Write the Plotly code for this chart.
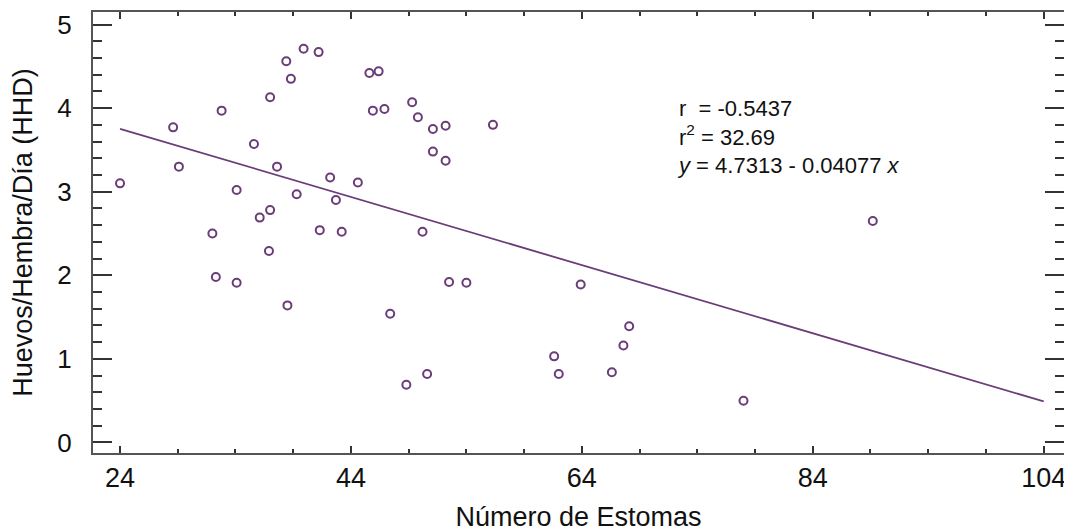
import plotly.graph_objects as go

# Data
estomas = [24.0, 28.6, 29.1, 32.8, 34.1, 35.6, 36.1, 37.0, 37.0, 37.6,
           38.4, 38.8, 39.3, 39.9, 41.2, 42.2, 42.7, 32.0, 41.3, 43.2,
           36.9, 32.3, 34.1, 38.5, 45.6, 46.4, 44.6, 45.9, 46.9, 49.3,
           49.8, 51.1, 52.2, 51.1, 52.2, 56.3, 50.2, 52.5, 54.0, 47.4,
           48.8, 50.6, 63.9, 61.6, 62.0, 89.2, 68.1, 67.6, 66.6, 78.0]
hhd = [3.10, 3.77, 3.30, 3.97, 3.02, 3.57, 2.69, 2.78, 4.13, 3.30,
       4.56, 4.35, 2.97, 4.71, 4.67, 3.17, 2.90, 2.50, 2.54, 2.52,
       2.29, 1.98, 1.91, 1.64, 4.42, 4.44, 3.11, 3.97, 3.99, 4.07,
       3.89, 3.75, 3.79, 3.48, 3.37, 3.80, 2.52, 1.92, 1.91, 1.54,
       0.69, 0.82, 1.89, 1.03, 0.82, 2.65, 1.39, 1.16, 0.84, 0.50]

intercept = 4.7313
slope = -0.04077
fit_x = [24, 104]
fit_y = [intercept + slope * v for v in fit_x]

stats_lines = ["r  = -0.5437", "r<sup>2</sup> = 32.69", "<i>y</i> = 4.7313 - 0.04077 <i>x</i>"]

x_ticks = [24, 44, 64, 84, 104]
y_ticks = [0, 1, 2, 3, 4, 5]

purple = "#6b3d78"
axis_col = "#555555"
font_family = "Liberation Sans, Arial, sans-serif"

fig = go.Figure()
fig.add_trace(go.Scatter(x=fit_x, y=fit_y, mode="lines",
                         line=dict(color=purple, width=1.8),
                         showlegend=False, hoverinfo="skip"))
fig.add_trace(go.Scatter(x=estomas, y=hhd, mode="markers",
                         marker=dict(symbol="circle-open", size=8,
                                     color=purple, line=dict(width=2, color=purple)),
                         showlegend=False))

fig.add_annotation(text="<br>".join(stats_lines), xref="paper", yref="paper",
                   x=0.599, y=0.815, xanchor="left", yanchor="top", align="left",
                   showarrow=False,
                   font=dict(family=font_family, size=22, color="#111111"))

# The page body has an 8px margin, so the figure is sized to fit the window.
fig.update_layout(
    width=1064, height=524,
    margin=dict(l=85, r=8, t=4, b=79, autoexpand=False),
    paper_bgcolor="white", plot_bgcolor="white",
    font=dict(family=font_family, color="#111111"),
)
fig.update_xaxes(
    automargin=False,
    range=[21.66, 105.76], tickmode="array", tickvals=x_ticks,
    ticktext=[str(v) for v in x_ticks],
    showgrid=False, zeroline=False,
    showline=True, linecolor=axis_col, linewidth=2, mirror="allticks",
    ticks="inside", ticklen=7, tickwidth=2, tickcolor="#333333",
    minor=dict(dtick=5, tick0=24, ticks="inside", ticklen=4, tickwidth=2, tickcolor="#333333", showgrid=False),
    tickfont=dict(size=27, family=font_family, color="#111111"),
    title=dict(text="Número de Estomas", font=dict(size=27, family=font_family, color="#111111"), standoff=16),
)
fig.update_yaxes(
    automargin=False,
    range=[-0.126, 5.15], tickmode="array", tickvals=y_ticks,
    ticktext=[str(v) for v in y_ticks],
    showgrid=False, zeroline=False,
    showline=True, linecolor=axis_col, linewidth=2, mirror="allticks",
    ticks="inside", ticklen=19, tickwidth=2, tickcolor="#333333",
    minor=dict(dtick=0.2, tick0=0, ticks="inside", ticklen=9, tickwidth=2, tickcolor="#333333", showgrid=False),
    tickfont=dict(size=26, family=font_family, color="#111111"),
    ticklabelstandoff=14,
    title=dict(text="Huevos/Hembra/Día (HHD)", font=dict(size=27, family=font_family, color="#111111"), standoff=21),
)

fig.write_html("out.html")
